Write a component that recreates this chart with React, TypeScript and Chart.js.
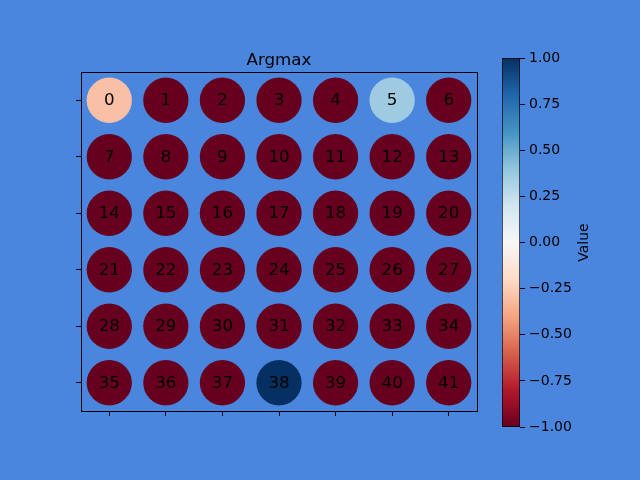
import React, { useEffect, useRef } from "react";
import { Chart, registerables } from "chart.js";

Chart.register(...registerables);

const columns = [0, 1, 2, 3, 4, 5, 6];
const rows = [0, 1, 2, 3, 4, 5];
const cellIds = [
  0, 1, 2, 3, 4, 5, 6,
  7, 8, 9, 10, 11, 12, 13,
  14, 15, 16, 17, 18, 19, 20,
  21, 22, 23, 24, 25, 26, 27,
  28, 29, 30, 31, 32, 33, 34,
  35, 36, 37, 38, 39, 40, 41,
];
const cellValues = [
  -0.3, -1, -1, -1, -1, 0.36, -1,
  -1, -1, -1, -1, -1, -1, -1,
  -1, -1, -1, -1, -1, -1, -1,
  -1, -1, -1, -1, -1, -1, -1,
  -1, -1, -1, -1, -1, -1, -1,
  -1, -1, -1, 1, -1, -1, -1,
];
const colorbarTicks = [-1, -0.75, -0.5, -0.25, 0, 0.25, 0.5, 0.75, 1];
const colorbarRange = [-1, 1];

const BG = "#4a86de";
const FONT = "'DejaVu Sans', sans-serif";

const RDBU = [
  [103, 0, 31],
  [178, 24, 43],
  [214, 96, 77],
  [244, 165, 130],
  [253, 219, 199],
  [247, 247, 247],
  [209, 229, 240],
  [146, 197, 222],
  [67, 147, 195],
  [33, 102, 172],
  [5, 48, 97],
];

function rdbu(v: number): string {
  const t = Math.max(0, Math.min(1, (v + 1) / 2)) * (RDBU.length - 1);
  const i = Math.min(RDBU.length - 2, Math.floor(t));
  const f = t - i;
  const a = RDBU[i];
  const b = RDBU[i + 1];
  const c = a.map((x, k) => Math.round(x + (b[k] - x) * f));
  return `rgb(${c[0]},${c[1]},${c[2]})`;
}

export default function App() {
  const mainRef = useRef<HTMLCanvasElement>(null);
  const cbRef = useRef<HTMLCanvasElement>(null);

  useEffect(() => {
    const points = cellIds.map((id, i) => ({
      x: columns[i % columns.length],
      y: rows[Math.floor(i / columns.length)],
      v: cellValues[i],
      id,
    }));

    const labelPlugin = {
      id: "labels",
      afterDatasetsDraw(chart: any) {
        const ctx = chart.ctx;
        const meta = chart.getDatasetMeta(0);
        ctx.save();
        ctx.fillStyle = "#000";
        ctx.font = `16.7px ${FONT}`;
        ctx.textAlign = "center";
        ctx.textBaseline = "middle";
        meta.data.forEach((el: any, i: number) => {
          ctx.fillText(String(points[i].id), el.x, el.y + 0.5);
        });
        const a = chart.chartArea;
        ctx.strokeStyle = "#000";
        ctx.lineWidth = 1;
        ctx.strokeRect(Math.round(a.left) + 0.5, Math.round(a.top) + 0.5, Math.round(a.right - a.left), Math.round(a.bottom - a.top));
        ctx.font = `16.7px ${FONT}`;
        ctx.textBaseline = "alphabetic";
        ctx.fillText("Argmax", (a.left + a.right) / 2, a.top - 7);
        ctx.restore();
      },
    };

    const main = new Chart(mainRef.current!, {
      type: "scatter",
      data: {
        datasets: [
          {
            data: points,
            pointRadius: (c: any) => {
              const s = c.chart.scales.x;
              return s ? 0.4 * (s.getPixelForValue(1) - s.getPixelForValue(0)) : 22;
            },
            pointHoverRadius: 22,
            backgroundColor: (c: any) => rdbu(c.raw ? c.raw.v : -1),
            borderWidth: 0,
          } as any,
        ],
      },
      options: {
        animation: false,
        responsive: false,
        events: [],
        layout: { padding: { left: 71, right: 163, top: 72, bottom: 59 } },
        plugins: { legend: { display: false }, tooltip: { enabled: false }, title: { display: false } },
        scales: {
          x: {
            type: "linear",
            min: -0.5,
            max: 6.5,
            afterBuildTicks: (s: any) => {
              s.ticks = columns.map((v) => ({ value: v }));
            },
            afterFit: (s: any) => {
              s.height = 10;
            },
            ticks: { callback: () => "", padding: 0 },
            grid: { drawOnChartArea: false, drawTicks: true, tickLength: 5, color: "#000" },
            border: { display: false },
          },
          y: {
            type: "linear",
            min: -0.5,
            max: 5.5,
            reverse: true,
            afterBuildTicks: (s: any) => {
              s.ticks = rows.map((v) => ({ value: v }));
            },
            afterFit: (s: any) => {
              s.width = 10;
            },
            ticks: { callback: () => "", padding: 0 },
            grid: { drawOnChartArea: false, drawTicks: true, tickLength: 5, color: "#000" },
            border: { display: false },
          },
        },
      } as any,
      plugins: [labelPlugin],
    });

    const cbPlugin = {
      id: "cbtitle",
      afterDraw(chart: any) {
        const ctx = chart.ctx;
        const a = chart.chartArea;
        ctx.save();
        ctx.fillStyle = "#000";
        ctx.font = `14px ${FONT}`;
        ctx.textAlign = "center";
        ctx.textBaseline = "middle";
        ctx.translate(584, (a.top + a.bottom) / 2);
        ctx.rotate(-Math.PI / 2);
        ctx.fillText("Value", 0, 0);
        ctx.restore();
      },
    };

    const cb = new Chart(cbRef.current!, {
      type: "bar",
      data: {
        labels: ["cb"],
        datasets: [
          {
            data: [colorbarRange as any],
            barPercentage: 1,
            categoryPercentage: 1,
            borderWidth: 1,
            borderColor: "#000",
            borderSkipped: false,
            backgroundColor: (c: any) => {
              const area = c.chart.chartArea;
              if (!area) return "#fff";
              const g = c.chart.ctx.createLinearGradient(0, area.bottom, 0, area.top);
              for (let k = 0; k <= 40; k++) {
                const v = colorbarRange[0] + ((colorbarRange[1] - colorbarRange[0]) * k) / 40;
                g.addColorStop(k / 40, rdbu(v));
              }
              return g;
            },
          } as any,
        ],
      },
      options: {
        animation: false,
        responsive: false,
        events: [],
        layout: { padding: { left: 502, right: 20, top: 58, bottom: 53 } },
        plugins: { legend: { display: false }, tooltip: { enabled: false } },
        scales: {
          x: { display: false },
          y: {
            position: "right",
            min: colorbarRange[0],
            max: colorbarRange[1],
            afterBuildTicks: (s: any) => {
              s.ticks = colorbarTicks.map((v) => ({ value: v }));
            },
            afterFit: (s: any) => {
              s.width = 100;
            },
            ticks: {
              color: "#000",
              font: { family: FONT, size: 14 },
              padding: 4,
              callback: (v: any) => Number(v).toFixed(2).replace("-", "\u2212"),
            },
            grid: { drawOnChartArea: false, drawTicks: true, tickLength: 5, color: "#000" },
            border: { display: false },
          },
        },
      } as any,
      plugins: [cbPlugin],
    });

    return () => {
      main.destroy();
      cb.destroy();
    };
  }, []);

  return (
    <div style={{ position: "fixed", left: 0, top: 0, width: 640, height: 480, background: BG }}>
      <canvas ref={mainRef} width={640} height={480} style={{ position: "absolute", left: 0, top: 0 }} />
      <canvas ref={cbRef} width={640} height={480} style={{ position: "absolute", left: 0, top: 0 }} />
    </div>
  );
}
